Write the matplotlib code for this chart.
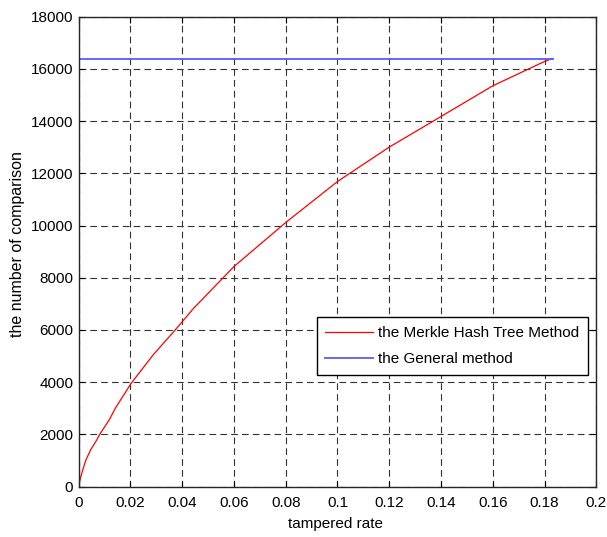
import matplotlib
matplotlib.use("Agg")
import matplotlib.pyplot as plt
import numpy as np

plt.rcParams['font.family'] = ['Liberation Sans', 'DejaVu Sans']
plt.rcParams['lines.scale_dashes'] = False

# Data
merkle_rate = [0, 0.0005, 0.00155, 0.0028, 0.0046, 0.0070, 0.0080, 0.0118, 0.0142,
               0.0203, 0.0289, 0.0373, 0.0444, 0.06, 0.08, 0.10, 0.12, 0.14,
               0.16, 0.18, 0.1831]
merkle_cmp = [0, 257, 640, 1023, 1406, 1789, 1981, 2556, 3010,
              3960, 5060, 6000, 6830, 8429, 10115, 11686, 13004, 14176,
              15352, 16284, 16400]
general_rate = [0, 0.1831]
general_cmp = [16384, 16384]

xticks = [0, 0.02, 0.04, 0.06, 0.08, 0.1, 0.12, 0.14, 0.16, 0.18, 0.2]
xtick_labels = ['0', '0.02', '0.04', '0.06', '0.08', '0.1', '0.12', '0.14', '0.16', '0.18', '0.2']
yticks = [0, 2000, 4000, 6000, 8000, 10000, 12000, 14000, 16000, 18000]

fig = plt.figure(figsize=(6.07, 5.37), dpi=100)
ax = fig.add_axes([0.1297, 0.0940, 0.8526, 0.8749])

ax.plot(merkle_rate, merkle_cmp, color='#ff0000', lw=0.9, label='the Merkle Hash Tree Method')
ax.plot(general_rate, general_cmp, color='#5a5aff', lw=1.3, label='the General method')

ax.set_xlim(0, 0.2)
ax.set_ylim(0, 18000)
ax.set_xticks(xticks)
ax.set_xticklabels(xtick_labels)
ax.set_yticks(yticks)
ax.set_yticklabels([str(v) for v in yticks])

ax.grid(True, color='0.2', lw=0.8, linestyle=(0, (4.8, 3.0)))
ax.set_axisbelow(True)
ax.tick_params(direction='in', length=4, width=0.8, top=True, right=True,
               labelsize=11, colors='black')
ax.tick_params(axis='x', pad=7)
ax.tick_params(axis='y', pad=4)
for s in ax.spines.values():
    s.set_linewidth(1.0)
    s.set_color('0.15')

ax.set_xlabel('tampered rate', fontsize=11)
ax.set_ylabel('the number of comparison', fontsize=11.5)
ax.xaxis.set_label_coords(0.496, -0.064)
ax.yaxis.set_label_coords(-0.104, 0.516)

leg = ax.legend(loc='upper right', bbox_to_anchor=(0.9842, 0.3602), borderaxespad=0,
                fancybox=False, edgecolor='black', framealpha=1, fontsize=11,
                handlelength=3.1, handletextpad=0.35, borderpad=0.58, labelspacing=0.78)
leg.get_frame().set_linewidth(1.0)

fig.savefig('out.png', dpi=100)
